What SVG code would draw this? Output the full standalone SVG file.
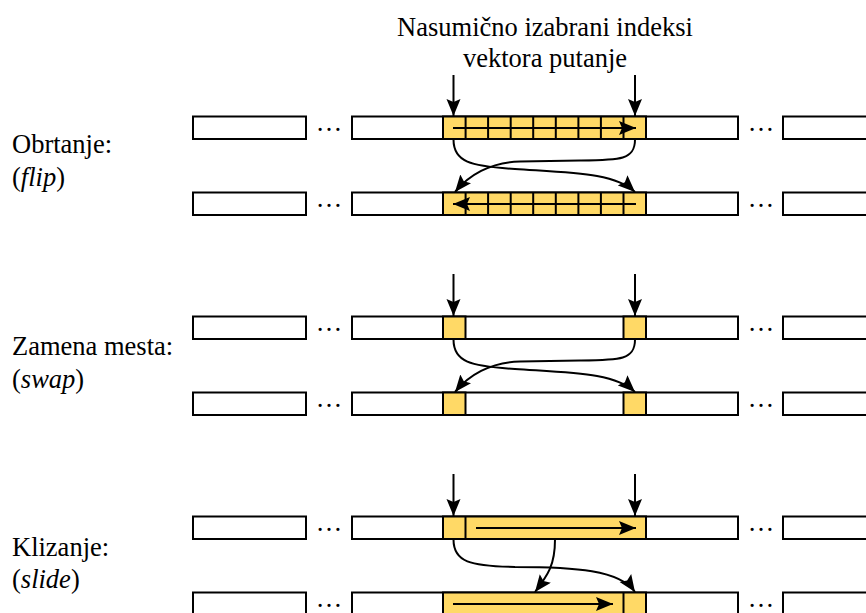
<svg xmlns="http://www.w3.org/2000/svg" width="866" height="613" viewBox="0 0 866 613">
<defs>
<style>
.box{fill:#fff;stroke:#000;stroke-width:2}
.cell{fill:#FFD966;stroke:#000;stroke-width:2}
.div{stroke:#000;stroke-width:2;fill:none}
.con{stroke:#000;stroke-width:2;fill:none;marker-end:url(#ah)}
.lbl{font-family:"Liberation Serif","Times New Roman",serif;font-size:26.5px;fill:#000}
.dots{font-family:"Liberation Serif","Times New Roman",serif;font-size:26.5px;fill:#000;text-anchor:middle}
</style>
<marker id="ah" markerUnits="userSpaceOnUse" markerWidth="18" markerHeight="15" refX="17" refY="7" orient="auto">
<path d="M0,0 L17,7 L0,14 L3,7 z" fill="#000"/>
</marker>
</defs>
<rect width="866" height="613" fill="#fff"/>

<g id="title">
<text class="lbl" x="545" y="36" text-anchor="middle">Nasumično izabrani indeksi</text>
<text class="lbl" x="545" y="67" text-anchor="middle">vektora putanje</text>
</g>

<g id="label-flip">
<text class="lbl" x="12" y="153">Obrtanje:</text>
<text class="lbl" x="12" y="186">(<tspan font-style="italic">flip</tspan>)</text>
</g>
<g id="label-swap">
<text class="lbl" x="12" y="355">Zamena mesta:</text>
<text class="lbl" x="12" y="388">(<tspan font-style="italic">swap</tspan>)</text>
</g>
<g id="label-slide">
<text class="lbl" x="12" y="556">Klizanje:</text>
<text class="lbl" x="12" y="588">(<tspan font-style="italic">slide</tspan>)</text>
</g>

<!-- FLIP row 1 -->
<g id="flip-row1">
<rect class="box" x="193" y="116.5" width="113" height="22.5"/>
<text class="dots" x="329" y="131">…</text>
<rect class="box" x="352" y="116.5" width="386" height="22.5"/>
<rect class="cell" x="443" y="116.5" width="203" height="22.5"/>
<path class="div" d="M465.6,116.5V139M488.1,116.5V139M510.7,116.5V139M533.2,116.5V139M555.8,116.5V139M578.4,116.5V139M600.9,116.5V139M623.5,116.5V139"/>
<text class="dots" x="761" y="131">…</text>
<rect class="box" x="783" y="116.5" width="110" height="22.5"/>
</g>
<g id="flip-row2">
<rect class="box" x="193" y="192.5" width="113" height="22.5"/>
<text class="dots" x="329" y="207">…</text>
<rect class="box" x="352" y="192.5" width="386" height="22.5"/>
<rect class="cell" x="443" y="192.5" width="203" height="22.5"/>
<path class="div" d="M465.6,192.5V215M488.1,192.5V215M510.7,192.5V215M533.2,192.5V215M555.8,192.5V215M578.4,192.5V215M600.9,192.5V215M623.5,192.5V215"/>
<text class="dots" x="761" y="207">…</text>
<rect class="box" x="783" y="192.5" width="110" height="22.5"/>
</g>

<!-- SWAP -->
<g id="swap-row1">
<rect class="box" x="193" y="316.5" width="113" height="22.5"/>
<text class="dots" x="329" y="331">…</text>
<rect class="box" x="352" y="316.5" width="386" height="22.5"/>
<rect class="cell" x="443" y="316.5" width="22.5" height="22.5"/>
<rect class="cell" x="623.5" y="316.5" width="22.5" height="22.5"/>
<text class="dots" x="761" y="331">…</text>
<rect class="box" x="783" y="316.5" width="110" height="22.5"/>
</g>
<g id="swap-row2">
<rect class="box" x="193" y="392.5" width="113" height="22.5"/>
<text class="dots" x="329" y="407">…</text>
<rect class="box" x="352" y="392.5" width="386" height="22.5"/>
<rect class="cell" x="443" y="392.5" width="22.5" height="22.5"/>
<rect class="cell" x="623.5" y="392.5" width="22.5" height="22.5"/>
<text class="dots" x="761" y="407">…</text>
<rect class="box" x="783" y="392.5" width="110" height="22.5"/>
</g>

<!-- SLIDE -->
<g id="slide-row1">
<rect class="box" x="193" y="516.5" width="113" height="22.5"/>
<text class="dots" x="329" y="531">…</text>
<rect class="box" x="352" y="516.5" width="386" height="22.5"/>
<rect class="cell" x="443" y="516.5" width="203" height="22.5"/>
<path class="div" d="M465.5,516.5V539"/>
<text class="dots" x="761" y="531">…</text>
<rect class="box" x="783" y="516.5" width="110" height="22.5"/>
</g>
<g id="slide-row2">
<rect class="box" x="193" y="592.5" width="113" height="22.5"/>
<text class="dots" x="329" y="607">…</text>
<rect class="box" x="352" y="592.5" width="386" height="22.5"/>
<rect class="cell" x="443" y="592.5" width="203" height="22.5"/>
<path class="div" d="M623.5,592.5V615"/>
<text class="dots" x="761" y="607">…</text>
<rect class="box" x="783" y="592.5" width="110" height="22.5"/>
</g>

<g id="connectors">
<!-- index arrows -->
<path class="con" d="M453.5,75V116"/>
<path class="con" d="M635,75V116"/>
<path class="con" d="M453.5,274V316"/>
<path class="con" d="M635,274V316"/>
<path class="con" d="M453.5,474V516"/>
<path class="con" d="M635,474V516"/>
<!-- flip -->
<path class="con" d="M453,128H636"/>
<path class="con" d="M636,204H453"/>
<path class="con" d="M453.5,139.5C453.5,162 470,166 515,169C575,173 615,173 635,192"/>
<path class="con" d="M635,139.5C635,160 620,160 580,160.5L520,161.5C490,162 468,176 455,192"/>
<!-- swap -->
<path class="con" d="M453.5,339.5C453.5,362 470,366 515,369C575,373 615,373 635,392"/>
<path class="con" d="M635,339.5C635,360 620,360 580,360.5L520,361.5C490,362 468,376 455,392"/>
<!-- slide -->
<path class="con" d="M476,528H636"/>
<path class="con" d="M453,604H613"/>
<path class="con" d="M453.5,539.5C453.5,562 470,566 515,567C575,567 620,570 635,592"/>
<path class="con" d="M555,539.5C555,565 548,575 535,592"/>
</g>
</svg>
